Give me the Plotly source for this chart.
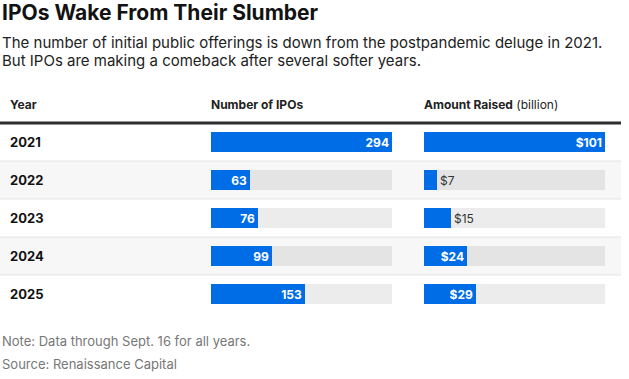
import plotly.graph_objects as go

W, H = 629, 379

# ---- data ----
years = ["2021", "2022", "2023", "2024", "2025"]
ipo_counts = [294, 63, 76, 99, 153]
amount_raised = [101, 7, 15, 24, 29]

title = "IPOs Wake From Their Slumber"
subtitle_lines = [
    "The number of initial public offerings is down from the postpandemic deluge in 2021.",
    "But IPOs are making a comeback after several softer years.",
]
headers = ["<b>Year</b>", "<b>Number of IPOs</b>", "<b>Amount Raised</b> (billion)"]
notes = ["Note: Data through Sept. 16 for all years.", "Source: Renaissance Capital"]

# ---- style ----
FONT = "Inter"
BLUE = "#006ce6"
TRACK = "rgba(0,0,0,0.075)"
ROW_TOP, ROW_H = 123, 38
LINE_RIGHT = 621
COL1 = (211, 392)
COL2 = (424, 605)
YEAR_X = 10
PAD = 2  # annotation inner padding compensation


def px(x):
    return x / W


def py(y):
    return 1 - y / H


n = len(years)
dom_y = [py(ROW_TOP + n * ROW_H), py(ROW_TOP)]

fig = go.Figure()


def add_bars(values, labels, xaxis):
    vmax = max(values)
    pos = ["inside" if v / vmax >= 0.2 else "outside" for v in values]
    fig.add_trace(go.Bar(
        x=[vmax] * len(values), y=years, orientation="h",
        marker=dict(color=TRACK, line=dict(width=0)),
        width=0.53, hoverinfo="skip", xaxis=xaxis, yaxis="y",
    ))
    fig.add_trace(go.Bar(
        x=values, y=years, orientation="h",
        marker=dict(color=BLUE, line=dict(width=0)),
        width=0.53, text=labels, textposition=pos, textangle=0,
        insidetextanchor="end", constraintext="none",
        insidetextfont=dict(family=FONT, size=12, color="white", weight=700),
        outsidetextfont=dict(family=FONT, size=12, color="#333333"),
        cliponaxis=False, xaxis=xaxis, yaxis="y",
    ))


add_bars(ipo_counts, [str(v) for v in ipo_counts], "x")
add_bars(amount_raised, ["$" + str(v) for v in amount_raised], "x2")

shapes = []
for i in range(n):
    if i % 2 == 1:
        shapes.append(dict(type="rect", xref="paper", yref="y", x0=0, x1=px(LINE_RIGHT),
                           y0=i - 0.5, y1=i + 0.5, fillcolor="#f7f7f7",
                           line=dict(width=0), layer="below"))
for i in range(1, n):
    shapes.append(dict(type="line", xref="paper", yref="y", x0=0, x1=px(LINE_RIGHT),
                       y0=i - 0.5, y1=i - 0.5, line=dict(color="#e3e3e3", width=1),
                       layer="below"))
shapes.append(dict(type="line", xref="paper", yref="paper", x0=0, x1=px(LINE_RIGHT),
                   y0=py(ROW_TOP), y1=py(ROW_TOP), line=dict(color="#2e2e2e", width=3)))

ann = []
ann.append(dict(text="<b>" + title + "</b>", x=px(2 - PAD), y=py(12), xref="paper", yref="paper",
                xanchor="left", yanchor="middle", showarrow=False,
                font=dict(family=FONT, size=21, color="#121212")))
for k, line in enumerate(subtitle_lines):
    ann.append(dict(text=line, x=px(2 - PAD), y=py(42 + 19 * k), xref="paper", yref="paper",
                    xanchor="left", yanchor="middle", showarrow=False,
                    font=dict(family=FONT, size=15, color="#222222")))
for hx, htxt in zip([YEAR_X, COL1[0], COL2[0]], headers):
    ann.append(dict(text=htxt, x=px(hx - PAD), y=py(104), xref="paper", yref="paper",
                    xanchor="left", yanchor="middle", showarrow=False,
                    font=dict(family=FONT, size=12, color="#222222")))
for i, yr in enumerate(years):
    ann.append(dict(text="<b>" + yr + "</b>", x=px(YEAR_X - PAD), y=i, xref="paper", yref="y",
                    xanchor="left", yanchor="middle", showarrow=False,
                    font=dict(family=FONT, size=13, color="#121212")))
for k, line in enumerate(notes):
    ann.append(dict(text=line, x=px(2 - PAD), y=py(341 + 23 * k), xref="paper", yref="paper",
                    xanchor="left", yanchor="middle", showarrow=False,
                    font=dict(family=FONT, size=13, color="#777777")))

fig.update_layout(
    width=W, height=H,
    margin=dict(l=0, r=0, t=0, b=0),
    paper_bgcolor="white", plot_bgcolor="rgba(0,0,0,0)",
    barmode="overlay", showlegend=False, bargap=0,
    xaxis=dict(domain=[px(COL1[0]), px(COL1[1])], range=[0, max(ipo_counts)],
               visible=False, fixedrange=True, anchor="y"),
    xaxis2=dict(domain=[px(COL2[0]), px(COL2[1])], range=[0, max(amount_raised)],
                visible=False, fixedrange=True, anchor="y"),
    yaxis=dict(domain=dom_y, range=[n - 0.5, -0.5], type="category",
               categoryorder="array", categoryarray=years,
               visible=False, fixedrange=True),
    shapes=shapes, annotations=ann,
    font=dict(family=FONT),
)

fig.write_html("out.html", config={"displayModeBar": False},
               post_script="document.body.style.margin='0';")
